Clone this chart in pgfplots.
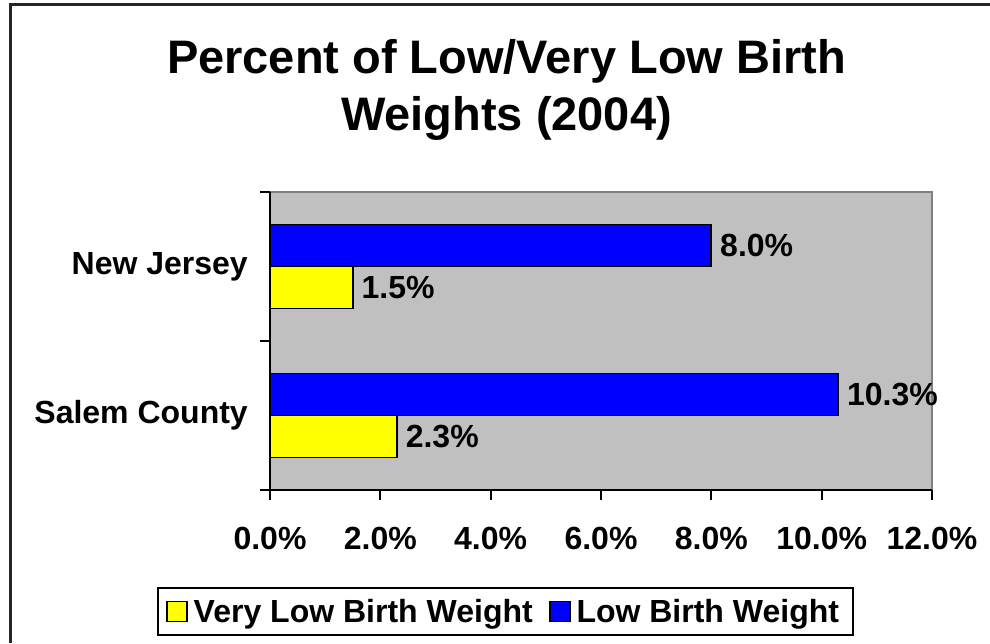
\documentclass[border=0pt]{standalone}
\usepackage{fontspec}
\setmainfont{Liberation Sans}
\usepackage{pgfplots}
\pgfplotsset{compat=1.18}
\definecolor{plotgray}{RGB}{192,192,192}
\definecolor{bordergray}{RGB}{128,128,128}
\definecolor{xlyellow}{RGB}{255,255,0}
\definecolor{xlblue}{RGB}{0,0,255}
\begin{document}
\begin{tikzpicture}[x=1pt,y=1pt]
\useasboundingbox (0,0) rectangle (990,643);
\draw[line width=3pt, black!85] (10,0) -- (10,638) -- (990,638);
\node[anchor=base, font=\fontsize{47}{56}\selectfont\bfseries] at (506.5,569) {Percent of Low/Very Low Birth};
\node[anchor=base, font=\fontsize{47}{56}\selectfont\bfseries] at (506.5,512) {Weights (2004)};
\begin{axis}[
  at={(270pt,153pt)}, anchor=south west,
  scale only axis, width=662pt, height=298pt,
  xmin=0, xmax=12, ymin=-0.5, ymax=1.5,
  xbar, bar width=0.282,
  axis x line*=bottom, axis y line*=left,
  axis line style={-, line width=2pt, black},
  axis background/.style={fill=plotgray, draw=bordergray, line width=2pt},
  tick align=outside, major tick length=10pt,
  tick style={line width=2pt, black},
  xtick={0,2,...,12},
  xticklabel={\pgfmathprintnumber[fixed,fixed zerofill,precision=1]{\tick}\%},
  ytick={-0.5,0.5,1.5}, yticklabels={},
  extra y ticks={0,1}, extra y tick labels={Salem County,New Jersey},
  extra y tick style={major tick length=0pt},
  /pgf/number format/assume math mode=true,
  every tick label/.append style={font=\fontsize{32}{38}\selectfont\bfseries},
  xticklabel style={inner sep=0pt, yshift=-27pt},
  yticklabel style={inner sep=0pt, xshift=-22pt},
  point meta=x,
  nodes near coords={\pgfmathprintnumber[fixed,fixed zerofill,precision=1]{\pgfplotspointmeta}\%},
  nodes near coords style={anchor=west, inner sep=0pt, xshift=8pt, font=\fontsize{32}{38}\selectfont\bfseries, black},
  legend style={at={(axis description cs:0.3557,-0.4077)}, anchor=center, draw=black, line width=2pt,
    legend columns=2, font=\fontsize{32}{38}\selectfont\bfseries, inner xsep=8pt, inner ysep=7pt,
    nodes={inner xsep=6pt, inner ysep=4pt},
    /tikz/every even column/.append style={column sep=10pt}},
  legend image code/.code={\draw[#1, line width=1.8pt] (0pt,-10pt) rectangle (20pt,10pt);},
]
\addplot[draw=black, line width=1.8pt, fill=xlyellow, bar shift=-0.141] coordinates {(2.3,0) (1.5,1)};
\addplot[draw=black, line width=1.8pt, fill=xlblue, bar shift=0.141] coordinates {(10.3,0) (8.0,1)};
\legend{Very Low Birth Weight, Low Birth Weight}
\end{axis}
\end{tikzpicture}
\end{document}
